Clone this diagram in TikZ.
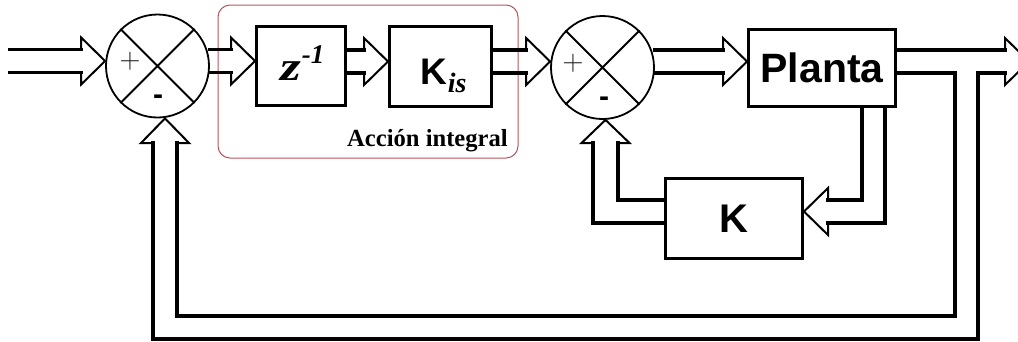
\documentclass[tikz,border=0pt]{standalone}
\usepackage{fontspec}
\newfontfamily\arialf{Liberation Sans}
\newfontfamily\timesf{Liberation Serif}
\usetikzlibrary{calc}
\definecolor{grpred}{RGB}{185,85,90}
\newcommand\hollowarrow[3]{%
  \draw[shaft] (#1 |- 0,#3-11.5) -- ($(#2 |- 0,#3-11.5)+(-24,0)$)
               (#1 |- 0,#3+11.5) -- ($(#2 |- 0,#3+11.5)+(-24,0)$);
  \draw[head] ($(#2 |- 0,#3-11.5)+(-24,0)$) -- ++(0,-12) -- (#2 |- 0,#3)
              -- ($(#2 |- 0,#3+11.5)+(-24,12)$) -- ++(0,-12);}
\begin{document}
\begin{tikzpicture}[x=1pt,y=-1pt,
  sumnode/.style={circle,draw,line width=1.8pt,minimum size=103pt,inner sep=0pt},
  blk/.style={draw,line width=3pt,inner sep=0pt},
  cross/.style={line width=1.8pt},
  shaft/.style={line width=3.2pt,line cap=rect},
  head/.style={line width=2pt,line join=miter},
  grp/.style={draw=grpred,line width=1pt,rounded corners=12pt,inner sep=0pt},
  plus/.style={font=\fontsize{29}{29}\selectfont,text=black!90,inner sep=0pt},
  minus/.style={font=\arialf\bfseries\fontsize{30}{30}\selectfont,inner sep=0pt}]

\useasboundingbox (0,0) rectangle (1018,341);
\clip (0,0) rectangle (1018,341);
\fill[white] (0,0) rectangle (1018,341);

% group frame
\node[grp,minimum width=300pt,minimum height=153pt] (grp) at (368,81.5) {};
\node[anchor=base west,inner sep=0pt] (lbl) at (347,146)
  {\timesf\bfseries\fontsize{24.6}{24.6}\selectfont Acción integral};

% summing junctions
\node[sumnode] (s1) at (157.5,66) {};
\node[sumnode] (s2) at (602.5,67.5) {};
\draw[cross] (s1.north west) -- (s1.south east) (s1.north east) -- (s1.south west);
\draw[cross] (s2.north west) -- (s2.south east) (s2.north east) -- (s2.south west);
\node[plus] (p1) at (130,61) {+};
\node[minus] (m1) at (158,100) {-};
\node[plus] (p2) at (573,63) {+};
\node[minus] (m2) at (604,102) {-};

% blocks
\node[blk,minimum width=89pt,minimum height=79pt] (z) at (301,66) {};
\node[anchor=base west,inner sep=0pt] (ztxt) at (280,80.5)
  {\timesf\bfseries\itshape\fontsize{41}{41}\selectfont\scalebox{1.3}[1]{z}\kern1pt\raisebox{17pt}{\fontsize{27}{27}\selectfont -1}};
\node[blk,minimum width=102pt,minimum height=80pt] (kis) at (440.5,66.5) {};
\node[anchor=base west,inner sep=0pt] (kistxt) at (420,84)
  {\arialf\bfseries\fontsize{37}{37}\selectfont K\kern1pt\timesf\itshape\fontsize{28}{28}\selectfont\raisebox{-8pt}{is}};
\node[blk,minimum width=147pt,minimum height=77pt] (pl) at (822,68)
  {\arialf\bfseries\fontsize{41}{41}\selectfont Planta};
\node[blk,minimum width=137pt,minimum height=80pt] (k) at (734,218.5)
  {\arialf\bfseries\fontsize{40}{40}\selectfont K};

% forward path
\coordinate (in) at (10,61);
\hollowarrow{in}{s1.west}{61}
\hollowarrow{s1.east}{z.west}{61}
\hollowarrow{z.east}{kis.west}{61.5}
\hollowarrow{kis.east}{s2.west}{61.5}
\hollowarrow{s2.east}{pl.west}{61.5}

% output arrow and outer feedback
\coordinate (out) at (1029,61.5);
\draw[shaft] (pl.east |- 0,50) -- ($(out |- 0,50)+(-24,0)$);
\draw[head] ($(out |- 0,50)+(-24,0)$) -- ++(0,-12) -- (out) -- ($(out |- 0,73)+(-24,12)$) -- ++(0,-12);
\draw[shaft] ($(out |- 0,73)+(-24,0)$) -| (978,339) -| (153,143);
\draw[shaft] (pl.east |- 0,73) -| (955,316) -| (177,143);
\draw[head] (153,143) -- (141,143) -- (s1.south -| 165,0) -- (189,143) -- (177,143);

% inner state feedback
\draw[shaft] (pl.south -| 862,0) |- (828,200);
\draw[shaft] (pl.south -| 885,0) |- (828,223);
\draw[head] (828,200) -- (828,188) -- (k.east |- 0,211.5) -- (828,235) -- (828,223);
\draw[shaft] (k.west |- 0,200) -| (618,143);
\draw[shaft] (k.west |- 0,223) -| (593,143);
\draw[head] (618,143) -- (629.5,143) -- (s2.south -| 605.5,0) -- (581.5,143) -- (593,143);
\end{tikzpicture}
\end{document}
